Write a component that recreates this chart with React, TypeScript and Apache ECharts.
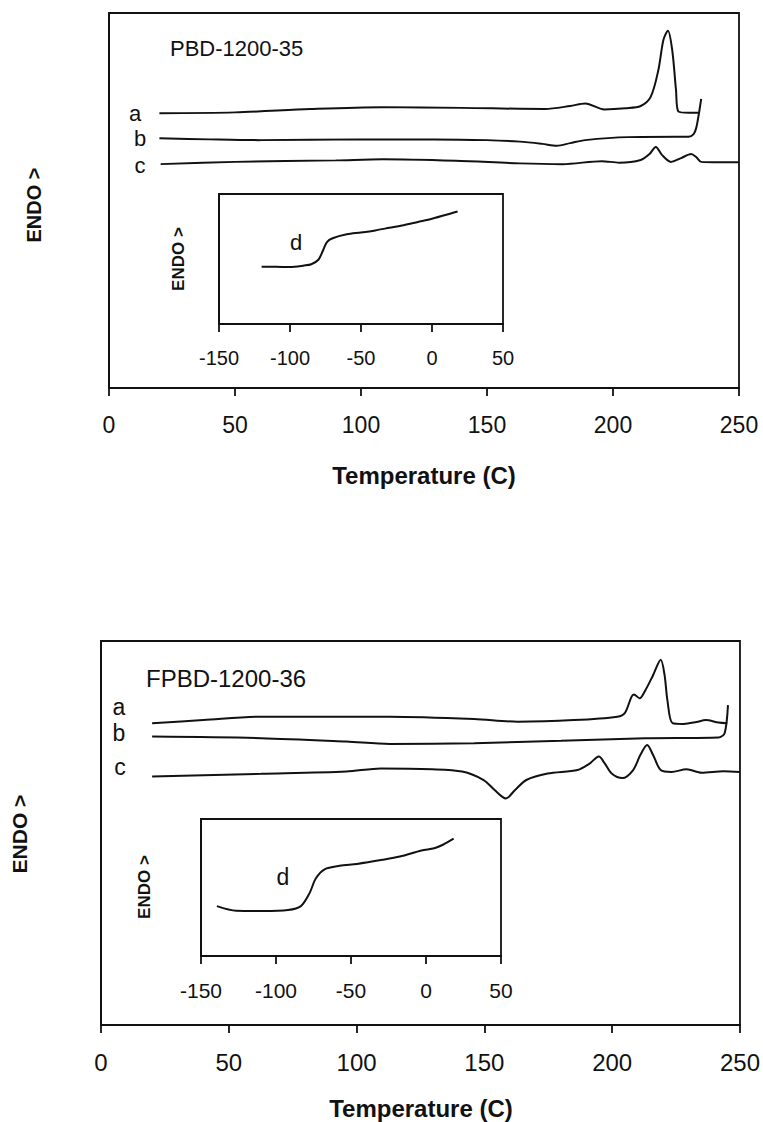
import React, { useEffect, useRef } from "react";
import * as echarts from "echarts";

// ---- Top panel (PBD-1200-35) ----
const TOP_A_T = [20, 50, 80, 108, 140, 173, 183, 189, 196.5, 205, 211, 215, 218, 220, 221.8, 223.5, 225, 226, 230, 234];
const TOP_A_V = [73.3, 73.5, 74.4, 74.9, 74.7, 74.4, 75.2, 75.9, 74.3, 74.6, 75.2, 77.7, 84.8, 92.8, 95.3, 90.1, 79.5, 73.7, 73.4, 73.4];
const TOP_B_T = [20, 40, 60, 100, 129, 150, 163, 172, 177.7, 183, 189, 206, 225, 230, 232, 233, 234, 235];
const TOP_B_V = [66.6, 66.3, 66.1, 66.3, 66.3, 66.1, 65.7, 65.1, 64.6, 65.3, 66.1, 66.9, 67.0, 67.0, 67.7, 69.3, 72.8, 77.1];
const TOP_C_T = [20.5, 50, 90, 108.5, 137.5, 163, 180, 195.6, 202.5, 211, 214.5, 217, 219.5, 223, 227, 231, 233, 235, 240, 250];
const TOP_C_V = [59.7, 60.3, 60.7, 61.0, 60.6, 59.9, 59.7, 60.5, 60.1, 60.8, 62.4, 64.3, 62.1, 60.3, 61.3, 62.4, 61.6, 60.3, 60.2, 60.2];
const TOP_D_T = [-120, -110, -100, -90, -85, -80, -77, -74, -70, -60, -50, -40, -30, -20, -10, 0, 10, 18];
const TOP_D_V = [44, 44, 43.8, 45, 46, 49.4, 56, 63, 66, 69, 70.4, 72, 74, 76, 78.5, 81, 84, 86.6];

// ---- Bottom panel (FPBD-1200-36) ----
const BOT_A_T = [20, 40, 62.7, 90, 113, 146, 163, 185, 202, 205, 207.5, 208.5, 210.7, 213, 216, 219, 220.5, 221.6, 223.6, 228, 233, 236.6, 241.6, 245];
const BOT_A_V = [78.6, 79.4, 80.3, 80.3, 80.3, 79.7, 79.0, 79.4, 80.3, 81.3, 85.4, 86.1, 85.1, 87.2, 91.1, 95.1, 91.1, 84.6, 78.6, 78.4, 78.9, 79.4, 78.8, 78.6];
const BOT_B_T = [20, 62.7, 96, 113, 146, 180, 213, 241.6, 244, 245.3];
const BOT_B_V = [75.1, 74.7, 73.8, 73.2, 73.4, 74.0, 74.7, 74.9, 76.0, 83.3];
const BOT_C_T = [20, 62.7, 96, 109.5, 129.6, 141.3, 149.7, 154, 158.4, 162, 166.4, 174.7, 186.5, 191, 194.8, 197, 199.8, 204, 208.2, 211, 213.7, 216, 219, 223.2, 229.1, 235, 243.5, 250];
const BOT_C_V = [64.7, 65.4, 66.0, 66.8, 66.6, 66.0, 63.8, 61.2, 59.0, 61.2, 63.8, 65.5, 66.4, 68.0, 69.9, 68.2, 65.5, 64.3, 66.4, 70.3, 72.9, 70.3, 66.4, 65.9, 66.6, 65.7, 66.1, 65.9];
const BOT_D_T = [-139.4, -126.5, -109, -92, -83.4, -77.7, -73.4, -67.6, -57.6, -46, -29, -17.4, -3, 5.5, 11.3, 18.4];
const BOT_D_V = [36.4, 33, 32.8, 33.5, 36.4, 45.7, 56.7, 63.3, 65.8, 67.2, 70.2, 72.6, 77, 78.7, 81.2, 85.6];

const MAIN_X = { min: 0, max: 250, interval: 50 };
const INSET_X = { min: -150, max: 50, interval: 50 };
const TITLES = ["PBD-1200-35", "FPBD-1200-36"];
const X_NAME = "Temperature (C)";
const Y_NAME = "ENDO >";

const FONT = "'Liberation Sans', Arial, Helvetica, sans-serif";
const INK = "#111";

const zip = (t: number[], v: number[]) => t.map((x, i) => [x, v[i]]);

export default function App() {
  const ref = useRef<HTMLDivElement>(null);
  useEffect(() => {
    if (!ref.current) return;
    const chart = echarts.init(ref.current, undefined, { renderer: "svg" });

    const grids = [
      { left: 109, top: 13, width: 630, height: 375 },
      { left: 219, top: 194, width: 284, height: 130 },
      { left: 101, top: 641, width: 640, height: 384 },
      { left: 201, top: 819, width: 300, height: 137 },
    ].map((g) => ({ ...g, show: true, borderColor: INK, borderWidth: 1.8, backgroundColor: "#fff", containLabel: false }));

    const mkX = (gi: number, r: any, fs: number, margin: number) => ({
      type: "value",
      gridIndex: gi,
      min: r.min,
      max: r.max,
      interval: r.interval,
      axisLine: { show: true, onZero: false, lineStyle: { color: INK, width: 2 } },
      axisTick: { show: true, inside: false, length: 8, lineStyle: { color: INK, width: 1.8 } },
      axisLabel: { color: INK, fontSize: fs, fontFamily: FONT, margin },
      splitLine: { show: false },
    });
    const mkY = (gi: number) => ({
      type: "value",
      gridIndex: gi,
      min: 0,
      max: 100,
      axisLine: { show: true, onZero: false, lineStyle: { color: INK, width: 2 } },
      axisTick: { show: false },
      axisLabel: { show: false },
      splitLine: { show: false },
    });

    const line = (gi: number, t: number[], v: number[]) => ({
      type: "line",
      xAxisIndex: gi,
      yAxisIndex: gi,
      data: zip(t, v),
      showSymbol: false,
      smooth: 0.3,
      lineStyle: { color: INK, width: 2 },
      silent: true,
    });

    const txt = (x: number, y: number, s: string, fs: number, extra: any = {}) => ({
      type: "text",
      x,
      y,
      style: { text: s, fill: INK, font: `${extra.bold ? "bold " : ""}${fs}px ${FONT}`, align: extra.align || "center", verticalAlign: "middle" },
      rotation: extra.rot || 0,
      z: 100,
    });

    chart.setOption({
      animation: false,
      backgroundColor: "#fff",
      grid: grids,
      xAxis: [mkX(0, MAIN_X, 23, 25), mkX(1, INSET_X, 20, 24), mkX(2, MAIN_X, 24, 25), mkX(3, INSET_X, 21, 24)],
      yAxis: [mkY(0), mkY(1), mkY(2), mkY(3)],
      series: [
        line(0, TOP_A_T, TOP_A_V),
        line(0, TOP_B_T, TOP_B_V),
        line(0, TOP_C_T, TOP_C_V),
        line(1, TOP_D_T, TOP_D_V),
        line(2, BOT_A_T, BOT_A_V),
        line(2, BOT_B_T, BOT_B_V),
        line(2, BOT_C_T, BOT_C_V),
        line(3, BOT_D_T, BOT_D_V),
      ],
      graphic: [
        txt(170, 48, TITLES[0], 22, { align: "left" }),
        txt(135, 113, "a", 22),
        txt(140, 138, "b", 22),
        txt(140, 165, "c", 22),
        txt(296, 242, "d", 22),
        txt(178, 259, Y_NAME, 17, { bold: true, rot: Math.PI / 2 }),
        txt(34, 205, Y_NAME, 20, { bold: true, rot: Math.PI / 2 }),
        txt(424, 475, X_NAME, 24, { bold: true }),

        txt(146, 678, TITLES[1], 24, { align: "left" }),
        txt(119, 707, "a", 23),
        txt(119, 733, "b", 23),
        txt(120, 767, "c", 23),
        txt(283, 877, "d", 23),
        txt(144, 887, Y_NAME, 17, { bold: true, rot: Math.PI / 2 }),
        txt(19, 834, Y_NAME, 21, { bold: true, rot: Math.PI / 2 }),
        txt(421, 1108, X_NAME, 24, { bold: true }),
      ],
    });
    return () => chart.dispose();
  }, []);
  return <div ref={ref} style={{ position: "absolute", left: 0, top: 0, width: 763, height: 1122 }} />;
}
